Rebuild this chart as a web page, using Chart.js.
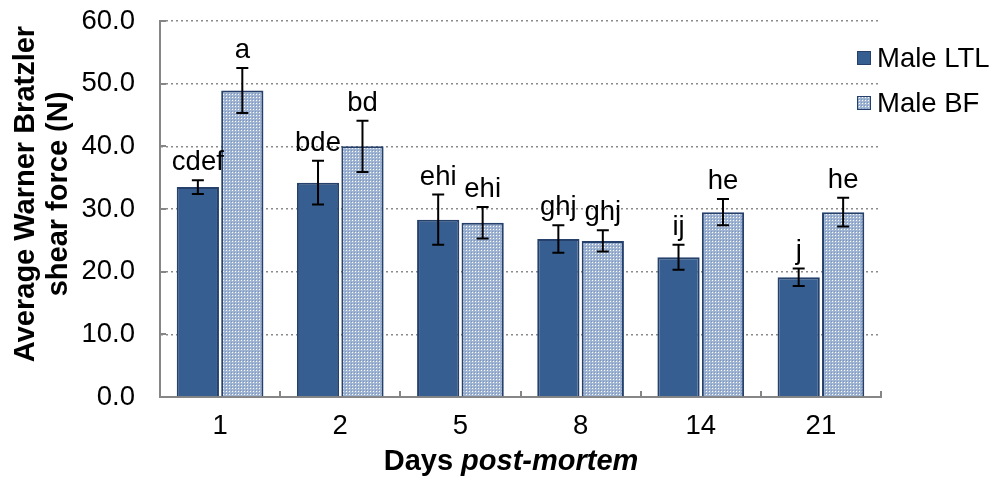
<!DOCTYPE html>
<html>
<head>
<meta charset="utf-8">
<script src="https://cdn.jsdelivr.net/npm/chart.js@4.4.1/dist/chart.umd.min.js"></script>
<style>
  html, body { margin: 0; padding: 0; background: #fff; }
  #wrap { width: 996px; height: 477px; }
</style>
</head>
<body>
<div id="wrap"><canvas id="wbsfChart" width="996" height="477"></canvas></div>
<script>
// days post-mortem
const days = ['1', '2', '5', '8', '14', '21'];

// Male LTL: mean shear force (N) and error
const ltlMean = [33.5, 34.2, 28.3, 25.2, 22.3, 19.1];
const ltlErr = [1.1, 3.5, 4.0, 2.2, 2.0, 1.4];
const ltlLetters = ['cdef', 'bde', 'ehi', 'ghj', 'ij', 'j'];

// Male BF: mean shear force (N) and error
const bfMean = [48.9, 40.0, 27.8, 24.9, 29.5, 29.5];
const bfErr = [3.6, 4.1, 2.5, 1.7, 2.1, 2.3];
const bfLetters = ['a', 'bd', 'ehi', 'ghj', 'he', 'he'];

const yMin = 0, yMax = 60, yStep = 10;

const FONT = 'Arial, "Liberation Sans", sans-serif';
const TXT = 27.5;   // regular text size
const BOLD = 29;    // axis titles
const AXIS_GREY = '#868686';
const NAVY = '#24406b';

const canvas = document.getElementById('wbsfChart');
const ctx = canvas.getContext('2d');

// small checker fill for the BF bars
function checkerFill() {
    const t = document.createElement('canvas');
    t.width = 3; t.height = 3;
    const g = t.getContext('2d');
    g.fillStyle = '#9fb3d2';
    g.fillRect(0, 0, 3, 3);
    g.fillStyle = '#ffffff';
    g.fillRect(1, 1, 1, 1);
    g.fillStyle = '#7c96c0';
    g.fillRect(0, 0, 1, 1);
    return ctx.createPattern(t, 'repeat');
}

const extras = {
    id: 'extras',
    afterDatasetsDraw(chart) {
        const c = chart.ctx;
        const ys = chart.scales.y;
        c.save();
        // error bars + significance letters
        chart.data.datasets.forEach((ds, i) => {
            const meta = chart.getDatasetMeta(i);
            meta.data.forEach((bar, j) => {
                const top = ys.getPixelForValue(ds.data[j] + ds.errors[j]);
                const bot = ys.getPixelForValue(ds.data[j] - ds.errors[j]);
                c.strokeStyle = '#000';
                c.lineWidth = 2;
                c.beginPath();
                c.moveTo(bar.x, top); c.lineTo(bar.x, bot);
                c.moveTo(bar.x - 6, top); c.lineTo(bar.x + 6, top);
                c.moveTo(bar.x - 6, bot); c.lineTo(bar.x + 6, bot);
                c.stroke();
                c.fillStyle = '#000';
                c.font = TXT + 'px ' + FONT;
                c.textAlign = 'center';
                c.textBaseline = 'alphabetic';
                c.fillText(ds.letters[j], bar.x, top - 10);
            });
        });
        c.restore();
    },
    afterDraw(chart) {
        const c = chart.ctx;
        const area = chart.chartArea;
        const ys = chart.scales.y;
        c.save();
        // inward tick marks
        c.strokeStyle = AXIS_GREY;
        c.lineWidth = 2;
        c.beginPath();
        for (let v = yMin; v <= yMax; v += yStep) {
            const y = Math.round(ys.getPixelForValue(v));
            c.moveTo(area.left, y); c.lineTo(area.left + 6, y);
        }
        const n = days.length;
        for (let k = 0; k <= n; k++) {
            const x = Math.round(area.left + (area.right - area.left) * k / n);
            c.moveTo(x, area.bottom); c.lineTo(x, area.bottom - 6);
        }
        c.stroke();

        // legend
        c.font = TXT + 'px ' + FONT;
        c.textAlign = 'left';
        c.textBaseline = 'middle';
        chart.data.datasets.forEach((ds, i) => {
            const cy = 58 + i * 45;
            c.fillStyle = ds.backgroundColor;
            c.fillRect(857, cy - 7, 14, 14);
            c.strokeStyle = NAVY;
            c.lineWidth = 1;
            c.strokeRect(857.5, cy - 6.5, 13, 13);
            c.fillStyle = '#000';
            c.fillText(ds.label, 877, cy + 1);
        });

        // y title, two lines
        c.save();
        c.translate(0, 194);
        c.rotate(-Math.PI / 2);
        c.font = 'bold ' + BOLD + 'px ' + FONT;
        c.textAlign = 'center';
        c.textBaseline = 'middle';
        c.fillText('Average Warner Bratzler', 0, 26);
        c.fillText('shear force (N)', 0, 59);
        c.restore();

        // x title: "Days" + italic "post-mortem"
        const a = 'Days ', b = 'post-mortem';
        c.textBaseline = 'middle';
        c.textAlign = 'left';
        c.font = 'bold ' + BOLD + 'px ' + FONT;
        const wa = c.measureText(a).width;
        c.font = 'italic bold ' + BOLD + 'px ' + FONT;
        const wb = c.measureText(b).width;
        const x0 = 511 - (wa + wb) / 2;
        c.font = 'bold ' + BOLD + 'px ' + FONT;
        c.fillText(a, x0, 462);
        c.font = 'italic bold ' + BOLD + 'px ' + FONT;
        c.fillText(b, x0 + wa, 462);
        c.restore();
    }
};

const bfFill = checkerFill();

new Chart(ctx, {
    type: 'bar',
    data: {
        labels: days,
        datasets: [
            {
                label: 'Male LTL',
                data: ltlMean,
                errors: ltlErr,
                letters: ltlLetters,
                backgroundColor: '#375e91',
                borderColor: NAVY,
                borderWidth: 2
            },
            {
                label: 'Male BF',
                data: bfMean,
                errors: bfErr,
                letters: bfLetters,
                backgroundColor: bfFill,
                borderColor: NAVY,
                borderWidth: 2
            }
        ]
    },
    options: {
        responsive: false,
        animation: false,
        devicePixelRatio: 1,
        layout: { padding: { left: 0, top: 21, right: 115, bottom: 0 } },
        categoryPercentage: 0.74,
        barPercentage: 0.95,
        plugins: {
            legend: { display: false },
            tooltip: { enabled: false }
        },
        scales: {
            x: {
                grid: { display: false, drawTicks: false },
                border: { display: true, color: AXIS_GREY, width: 2 },
                ticks: { color: '#000', font: { family: FONT, size: TXT }, padding: 13 },
                afterFit(s) {
                    s.height = 80;
                    s.paddingLeft = 0;
                    s.paddingRight = 0;
                }
            },
            y: {
                min: yMin,
                max: yMax,
                grid: { color: '#8a8a8a', lineWidth: 1.5, drawTicks: false },
                border: { display: true, color: AXIS_GREY, width: 2, dash: [2, 3] },
                ticks: {
                    stepSize: yStep,
                    color: '#000',
                    font: { family: FONT, size: TXT },
                    padding: 25,
                    callback: v => v.toFixed(1)
                },
                afterFit(s) {
                    s.width = 160;
                    s.paddingTop = 0;
                    s.paddingBottom = 0;
                }
            }
        }
    },
    plugins: [extras]
});
</script>
</body>
</html>
